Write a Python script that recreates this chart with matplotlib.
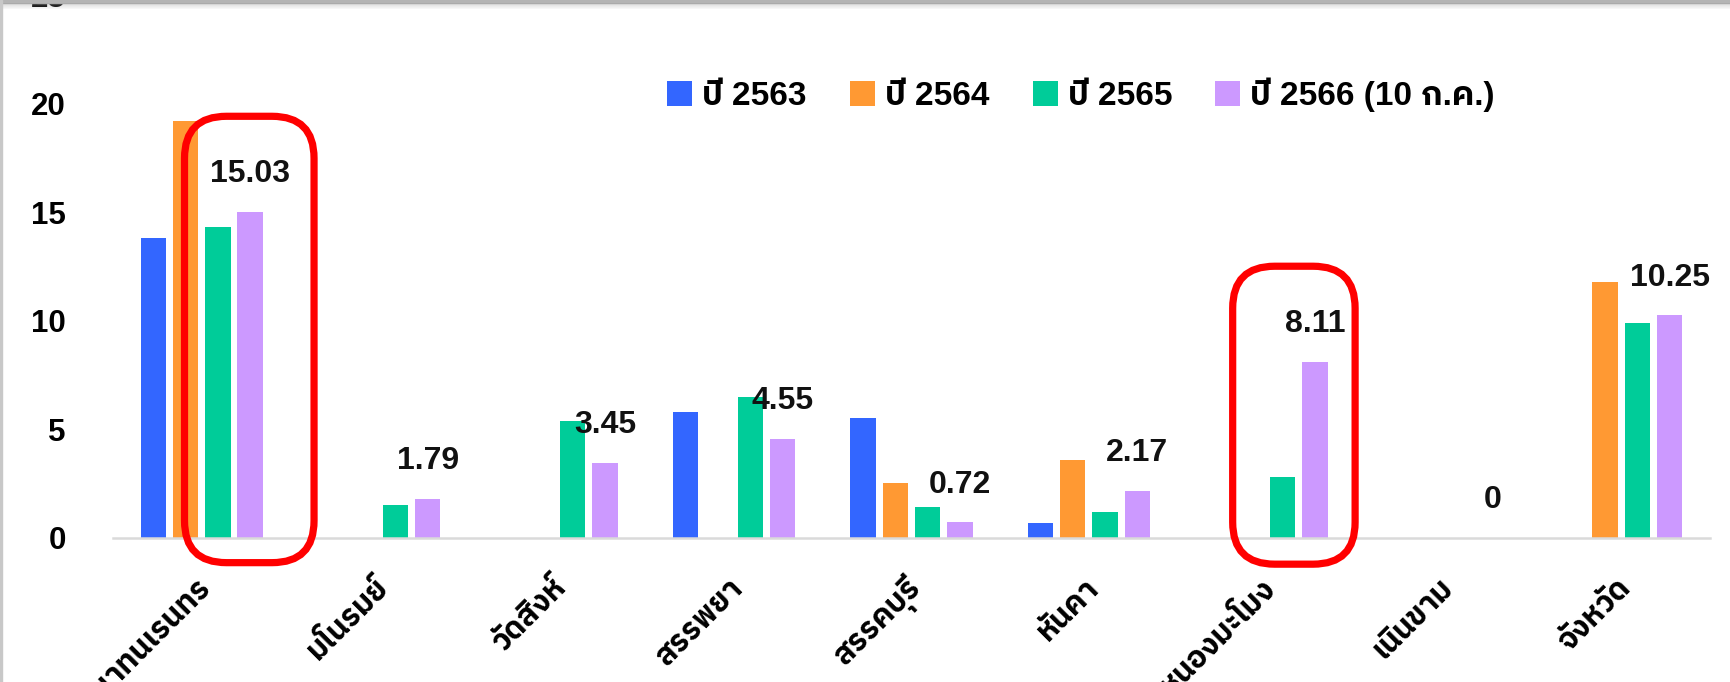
import numpy as np
import matplotlib
matplotlib.use("Agg")
import matplotlib.pyplot as plt
from matplotlib.patches import FancyBboxPatch, Patch, Rectangle
from matplotlib.transforms import IdentityTransform

districts = ['ชัยนาทนเรนทร', 'มโนรมย์', 'วัดสิงห์', 'สรรพยา', 'สรรคบุรี',
             'หันคา', 'หนองมะโมง', 'เนินขาม', 'จังหวัด']
series_names = ['ปี 2563', 'ปี 2564', 'ปี 2565', 'ปี 2566 (10 ก.ค.)']
y2563 = [13.8, None, None, 5.8, 5.5, 0.7, None, None, None]
y2564 = [19.2, None, None, None, 2.5, 3.6, None, None, 11.8]
y2565 = [14.3, 1.5, 5.4, 6.5, 1.4, 1.2, 2.8, None, 9.9]
y2566 = [15.03, 1.79, 3.45, 4.55, 0.72, 2.17, 8.11, 0, 10.25]
colors = ['#3366ff', '#ff9933', '#00cc99', '#cc99ff']

# Latin digits from Liberation, Thai glyphs fall through to IBM Plex Sans Thai (has a bold)
plt.rcParams['font.family'] = ['Liberation Sans', 'IBM Plex Sans Thai',
                               'Noto Sans Thai', 'DejaVu Sans']

W, H = 1730, 682
fig = plt.figure(figsize=(W / 100, H / 100), dpi=100)
# plot area: x 113..1710 px, y=0 at 537.7 px, 25 at -4.8 px
ax = fig.add_axes([113 / W, 1 - 537.7 / H, 1597 / W, 542.5 / H])

x = np.arange(len(districts))
slot = 0.182
width = 0.143
for i, vals in enumerate([y2563, y2564, y2565, y2566]):
    v = np.array([np.nan if a is None else a for a in vals], dtype=float)
    ax.bar(x + (i - 1.5) * slot, v, width, color=colors[i], zorder=2)

for xi, v in zip(x, y2566):
    ax.annotate(f'{v:g}', (xi + 1.5 * slot, v), xytext=(0, 27),
                textcoords='offset points', ha='center', va='center',
                fontsize=23, fontweight='bold', color='#111111')

ax.set_xlim(-0.5, len(districts) - 0.5)
ax.set_ylim(0, 25)
ax.set_yticks([0, 5, 10, 15, 20, 25])
ax.tick_params(axis='y', length=0, pad=34, labelsize=22.5)
ax.set_xticks(x + 0.03)
ax.set_xticklabels(districts, rotation=45, ha='right', va='center',
                   rotation_mode='anchor', fontsize=22, fontweight='bold')
ax.tick_params(axis='x', length=0, pad=33)
for lab in ax.get_yticklabels():
    lab.set_fontweight('bold')
for s in ['top', 'right', 'left']:
    ax.spines[s].set_visible(False)
ax.spines['bottom'].set_color('#dadada')
ax.spines['bottom'].set_linewidth(1.8)
ax.set_facecolor('none')


def red_box(x0, x1, y0, y1):
    (px0, py0), (px1, py1) = ax.transData.transform([(x0, y0), (x1, y1)])
    box = FancyBboxPatch((px0, py0), px1 - px0, py1 - py0,
                         boxstyle='round,pad=0,rounding_size=42',
                         transform=IdentityTransform(), fill=False,
                         edgecolor='#ff0000', linewidth=5.2, zorder=5)
    fig.add_artist(box)


red_box(-0.097, 0.633, -1.15, 19.42)
red_box(5.81, 6.50, -1.22, 12.51)

handles = [Patch(facecolor=c, edgecolor='none') for c in colors]
fig.legend(handles, series_names, loc='center left',
           bbox_to_anchor=(667 / W, 1 - 95 / H), ncol=4, frameon=False,
           borderpad=0, borderaxespad=0, handlelength=0.75, handleheight=0.8,
           handletextpad=0.3, columnspacing=1.3,
           prop={'weight': 'bold', 'size': 24})

# screenshot frame: grey top edge with a soft shadow, thin left edge
fig.add_artist(Rectangle((0, 1 - 3 / H), 1, 3 / H, transform=fig.transFigure,
                         color='#b4b4b4', zorder=10))
for k in range(6):
    fig.add_artist(Rectangle((0, 1 - (4 + k) / H), 1, 1 / H,
                             transform=fig.transFigure, color='#9a9a9a',
                             alpha=0.35 - k * 0.055, lw=0, zorder=10))
fig.add_artist(Rectangle((0, 0), 2 / W, 1, transform=fig.transFigure,
                         color='#c8c8c8', zorder=10))

fig.savefig('out.png', dpi=100)
